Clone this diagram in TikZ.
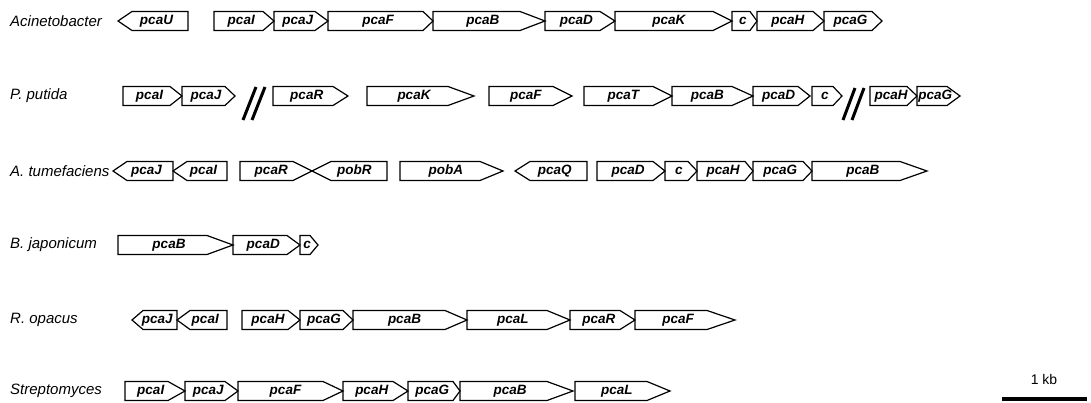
\documentclass[tikz,border=0pt]{standalone}
\usepackage{fontspec}
\setmainfont{Liberation Sans}
\tikzset{
  genebox/.style={draw=black, line width=1.2pt, line join=miter},
  genelabel/.style={font=\fontsize{13.5}{15}\selectfont\bfseries\itshape, inner sep=0pt},
  species/.style={font=\fontsize{15}{17}\selectfont\itshape, anchor=west, inner sep=0pt},
  breakmark/.style={line width=3pt, line cap=butt},
}
% right-pointing gene: name, left end, start of tip, tip, row y, label
\newcommand\rgene[6]{%
  \draw[genebox] (#2,#5-9.5) -- (#3,#5-9.5) -- (#4,#5) -- (#3,#5+9.5) -- (#2,#5+9.5) -- cycle;
  \node[genelabel] (#1) at ({(#2+#3)/2+(#4-#3)/4},#5) {#6};
}
% left-pointing gene: name, tip, start of body, right end, row y, label
\newcommand\lgene[6]{%
  \draw[genebox] (#2,#5) -- (#3,#5-9.5) -- (#4,#5-9.5) -- (#4,#5+9.5) -- (#3,#5+9.5) -- cycle;
  \node[genelabel] (#1) at ({(#3+#4)/2-(#3-#2)/4},#5) {#6};
}
\begin{document}
\begin{tikzpicture}[x=1pt, y=-1pt]
\useasboundingbox (0,0) rectangle (1091,403);

% Acinetobacter
\node[species] (sp1) at (10,21) {Acinetobacter};
\lgene{a1}{118}{132}{188}{21}{pcaU}
\rgene{a2}{214}{263}{274}{21}{pcaI}
\rgene{a3}{274}{315}{328}{21}{pcaJ}
\rgene{a4}{328}{423}{433}{21}{pcaF}
\rgene{a5}{433}{520}{545}{21}{pcaB}
\rgene{a6}{545}{600}{615}{21}{pcaD}
\rgene{a7}{615}{713}{732}{21}{pcaK}
\rgene{a8}{732}{750}{757}{21}{c}
\rgene{a9}{757}{813}{824}{21}{pcaH}
\rgene{a10}{824}{872}{882}{21}{pcaG}

% P. putida
\node[species] (sp2) at (10,96) {P. putida};
\rgene{b1}{123}{170}{182}{96}{pcaI}
\rgene{b2}{182}{225}{235}{96}{pcaJ}
\draw[breakmark] (243,120) -- (256,87);
\draw[breakmark] (252,120) -- (265,87);
\rgene{b3}{273}{333}{348}{96}{pcaR}
\rgene{b4}{367}{448}{474}{96}{pcaK}
\rgene{b5}{489}{553}{572}{96}{pcaF}
\rgene{b6}{584}{653}{672}{96}{pcaT}
\rgene{b7}{672}{732}{753}{96}{pcaB}
\rgene{b8}{753}{798}{810}{96}{pcaD}
\rgene{b9}{812}{833}{842}{96}{c}
\draw[breakmark] (843,120) -- (855,88);
\draw[breakmark] (852,120) -- (864,88);
\rgene{b10}{870}{907}{917}{96}{pcaH}
\rgene{b11}{917}{947}{960}{96}{pcaG}

% A. tumefaciens
\node[species] (sp3) at (10,171) {A. tumefaciens};
\lgene{c1}{113}{127}{173}{171}{pcaJ}
\lgene{c2}{173}{187}{227}{171}{pcaI}
\rgene{c3}{240}{293}{312}{171}{pcaR}
\lgene{c4}{312}{331}{387}{171}{pobR}
\rgene{c5}{400}{480}{503}{171}{pobA}
\lgene{c6}{515}{530}{587}{171}{pcaQ}
\rgene{c7}{597}{653}{665}{171}{pcaD}
\rgene{c8}{665}{688}{697}{171}{c}
\rgene{c9}{697}{745}{753}{171}{pcaH}
\rgene{c10}{753}{803}{812}{171}{pcaG}
\rgene{c11}{812}{900}{927}{171}{pcaB}

% B. japonicum
\node[species] (sp4) at (10,245) {B. japonicum};
\rgene{d1}{118}{207}{233}{245}{pcaB}
\rgene{d2}{233}{287}{300}{245}{pcaD}
\rgene{d3}{300}{310}{318}{245}{c}

% R. opacus
\node[species] (sp5) at (10,320) {R. opacus};
\lgene{e1}{132}{143}{177}{320}{pcaJ}
\lgene{e2}{177}{190}{227}{320}{pcaI}
\rgene{e3}{242}{288}{300}{320}{pcaH}
\rgene{e4}{300}{343}{353}{320}{pcaG}
\rgene{e5}{353}{445}{467}{320}{pcaB}
\rgene{e6}{467}{547}{570}{320}{pcaL}
\rgene{e7}{570}{620}{635}{320}{pcaR}
\rgene{e8}{635}{707}{735}{320}{pcaF}

% Streptomyces
\node[species] (sp6) at (10,391) {Streptomyces};
\rgene{f1}{125}{168}{185}{391}{pcaI}
\rgene{f2}{185}{225}{238}{391}{pcaJ}
\rgene{f3}{238}{323}{343}{391}{pcaF}
\rgene{f4}{343}{393}{408}{391}{pcaH}
\rgene{f5}{408}{453}{460}{391}{pcaG}
\rgene{f6}{460}{547}{573}{391}{pcaB}
\rgene{f7}{575}{647}{670}{391}{pcaL}

% scale bar
\node[font=\fontsize{14}{16}\selectfont, inner sep=0pt] (kb) at (1044,379) {1 kb};
\coordinate (barL) at (1002,399);
\coordinate (barR) at (1087,399);
\draw[line width=4pt] (barL) -- (barR);
\end{tikzpicture}
\end{document}
